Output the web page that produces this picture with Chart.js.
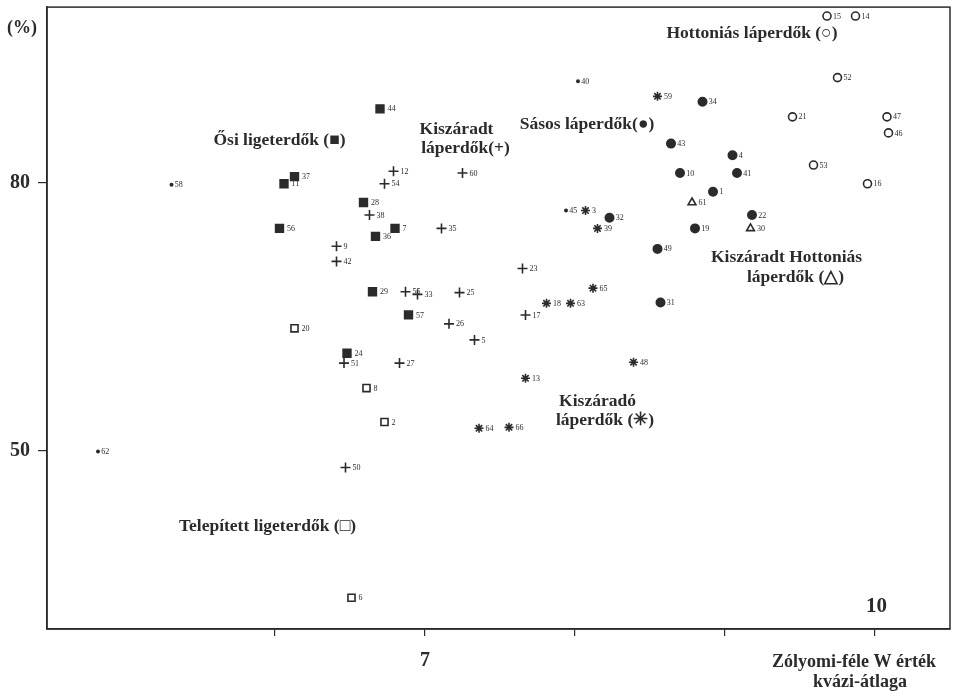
<!DOCTYPE html>
<html>
<head>
<meta charset="utf-8">
<script src="https://cdn.jsdelivr.net/npm/chart.js@4.4.1/dist/chart.umd.min.js"></script>
<style>
  html, body { margin: 0; padding: 0; background: #fff; }
  canvas { display: block; }
</style>
</head>
<body>
<canvas id="chart" width="959" height="691"></canvas>
<script>
// --- adatok: sorszám, Zólyomi W kvázi-átlag, százalék ---
const osiIds = [44, 37, 11, 28, 7, 56, 36, 29, 57, 24];
const osiW   = [6.70, 6.13, 6.06, 6.59, 6.80, 6.03, 6.67, 6.65, 6.89, 6.48];
const osiPct = [88.3, 80.7, 79.9, 77.8, 74.9, 74.9, 74.0, 67.8, 65.2, 60.9];

const kiszIds = [12, 60, 54, 38, 35, 9, 42, 55, 33, 25, 26, 5, 51, 27, 23, 17, 50];
const kiszW   = [6.79, 7.25, 6.73, 6.63, 7.11, 6.41, 6.41, 6.87, 6.95, 7.23, 7.16, 7.33, 6.46, 6.83, 7.65, 7.67, 6.47];
const kiszPct = [81.3, 81.1, 79.9, 76.4, 74.9, 72.9, 71.2, 67.8, 67.5, 67.7, 64.2, 62.4, 59.8, 59.8, 70.4, 65.2, 48.1];

const kiszadoIds = [59, 3, 39, 65, 18, 63, 48, 13, 64, 66];
const kiszadoW   = [8.55, 8.07, 8.15, 8.12, 7.81, 7.97, 8.39, 7.67, 7.36, 7.56];
const kiszadoPct = [89.7, 76.9, 74.9, 68.2, 66.5, 66.5, 59.9, 58.1, 52.5, 52.6];

const sasosIds = [34, 43, 4, 10, 41, 1, 32, 22, 19, 49, 31];
const sasosW   = [8.85, 8.64, 9.05, 8.70, 9.08, 8.92, 8.23, 9.18, 8.80, 8.55, 8.57];
const sasosPct = [89.1, 84.4, 83.1, 81.1, 81.1, 79.0, 76.1, 76.4, 74.9, 72.6, 66.6];

const hottIds = [15, 14, 52, 21, 47, 46, 53, 16];
const hottW   = [9.68, 9.87, 9.75, 9.45, 10.08, 10.09, 9.59, 9.95];
const hottPct = [98.7, 98.7, 91.8, 87.4, 87.4, 85.6, 82.0, 79.9];

const kiszHottIds = [61, 30];
const kiszHottW   = [8.78, 9.17];
const kiszHottPct = [77.8, 74.9];

const telepIds = [20, 8, 2, 6];
const telepW   = [6.13, 6.61, 6.73, 6.51];
const telepPct = [63.7, 57.0, 53.2, 33.5];

const egyebIds = [58, 40, 45, 62];
const egyebW   = [5.31, 8.02, 7.94, 4.82];
const egyebPct = [79.8, 91.4, 76.9, 49.9];

const xTicks = [6, 7, 8, 9, 10];
const yTicks = [50, 80];

// csoportfeliratok (adatkoordinátákban)
const groupTexts = [
  ['Hottoniás láperdők (○)', 9.18, 96.7],
  ['Ősi ligeterdők (■)', 6.03, 84.7],
  ['Kiszáradt', 7.21, 86.0],
  ['láperdők(+)', 7.27, 83.9],
  ['Sásos láperdők(●)', 8.08, 86.5],
  ['Kiszáradt Hottoniás', 9.41, 71.6],
  ['láperdők (△)', 9.47, 69.4],
  ['Kiszáradó', 8.15, 55.5],
  ['láperdők (✳)', 8.20, 53.35],
  ['Telepített ligeterdők (□)', 5.95, 41.5]
];

const INK = '#2b2b2b';
const SERIF = '"Liberation Serif", "Times New Roman", serif';

function pts(xs, ys) {
  return xs.map((x, i) => ({ x: x, y: ys[i] }));
}

function ds(ids, xs, ys, style, radius, filled) {
  return {
    data: pts(xs, ys),
    ids: ids,
    pointStyle: style,
    pointRadius: radius,
    pointHoverRadius: radius,
    pointBorderWidth: 1.6,
    borderColor: INK,
    backgroundColor: filled ? INK : 'rgba(0,0,0,0)',
    showLine: false
  };
}

const labelPlugin = {
  id: 'labels',
  afterDatasetsDraw(chart) {
    const { ctx, chartArea: a, scales } = chart;
    ctx.save();
    // keret
    ctx.strokeStyle = INK;
    ctx.lineWidth = 1.5;
    ctx.strokeRect(a.left, a.top, a.right - a.left, a.bottom - a.top);

    // pontok sorszáma
    ctx.fillStyle = INK;
    ctx.font = '8px ' + SERIF;
    ctx.textAlign = 'left';
    ctx.textBaseline = 'middle';
    chart.data.datasets.forEach((d, di) => {
      const meta = chart.getDatasetMeta(di);
      meta.data.forEach((el, i) => {
        ctx.fillText(String(d.ids[i]), el.x + d.pointRadius + 2, el.y + 0.5);
      });
    });

    // csoportnevek
    ctx.font = 'bold 17.5px ' + SERIF;
    ctx.textAlign = 'center';
    groupTexts.forEach(t => {
      ctx.fillText(t[0], scales.x.getPixelForValue(t[1]), scales.y.getPixelForValue(t[2]));
    });

    ctx.font = 'bold 21px ' + SERIF;
    ctx.fillText('10', scales.x.getPixelForValue(10.01), scales.y.getPixelForValue(32.5));
    ctx.font = 'bold 18px ' + SERIF;
    ctx.fillText('(%)', 22, 28);

    ctx.font = 'bold 18px ' + SERIF;
    ctx.fillText('Zólyomi-féle W érték', 854, 662);
    ctx.fillText('kvázi-átlaga', 860, 682);
    ctx.restore();
  }
};

new Chart(document.getElementById('chart'), {
  type: 'scatter',
  data: {
    datasets: [
      ds(osiIds, osiW, osiPct, 'rect', 5.5, true),
      ds(kiszIds, kiszW, kiszPct, 'cross', 5, false),
      ds(kiszadoIds, kiszadoW, kiszadoPct, 'star', 4.5, false),
      ds(sasosIds, sasosW, sasosPct, 'circle', 4.2, true),
      ds(hottIds, hottW, hottPct, 'circle', 4, false),
      ds(kiszHottIds, kiszHottW, kiszHottPct, 'triangle', 4.5, false),
      ds(telepIds, telepW, telepPct, 'rect', 5, false),
      ds(egyebIds, egyebW, egyebPct, 'circle', 1.2, true)
    ]
  },
  options: {
    responsive: false,
    animation: false,
    layout: { padding: { top: 4, right: 9, bottom: 0, left: 0 } },
    plugins: {
      legend: { display: false },
      tooltip: { enabled: false }
    },
    scales: {
      x: {
        type: 'linear',
        min: 4.48,
        max: 10.5,
        afterBuildTicks: axis => { axis.ticks = xTicks.map(v => ({ value: v })); },
        afterFit: s => { s.height = 62; s.paddingLeft = 0; s.paddingRight = 0; },
        grid: { drawOnChartArea: false, drawTicks: true, tickLength: 7, color: INK, lineWidth: 1.2 },
        border: { display: true, color: INK, width: 1.5 },
        ticks: {
          padding: 13,
          color: INK,
          font: { family: SERIF, size: 20, weight: 'bold' },
          callback: v => (v === 7 ? '7' : '')
        }
      },
      y: {
        type: 'linear',
        min: 30,
        max: 99.7,
        afterBuildTicks: axis => { axis.ticks = yTicks.map(v => ({ value: v })); },
        afterFit: s => { s.width = 47; s.paddingTop = 0; s.paddingBottom = 0; },
        grid: { drawOnChartArea: false, drawTicks: true, tickLength: 9, color: INK, lineWidth: 1.2 },
        border: { display: true, color: INK, width: 1.5 },
        ticks: {
          padding: 8,
          color: INK,
          font: { family: SERIF, size: 20, weight: 'bold' }
        }
      }
    }
  },
  plugins: [labelPlugin]
});
</script>
</body>
</html>
